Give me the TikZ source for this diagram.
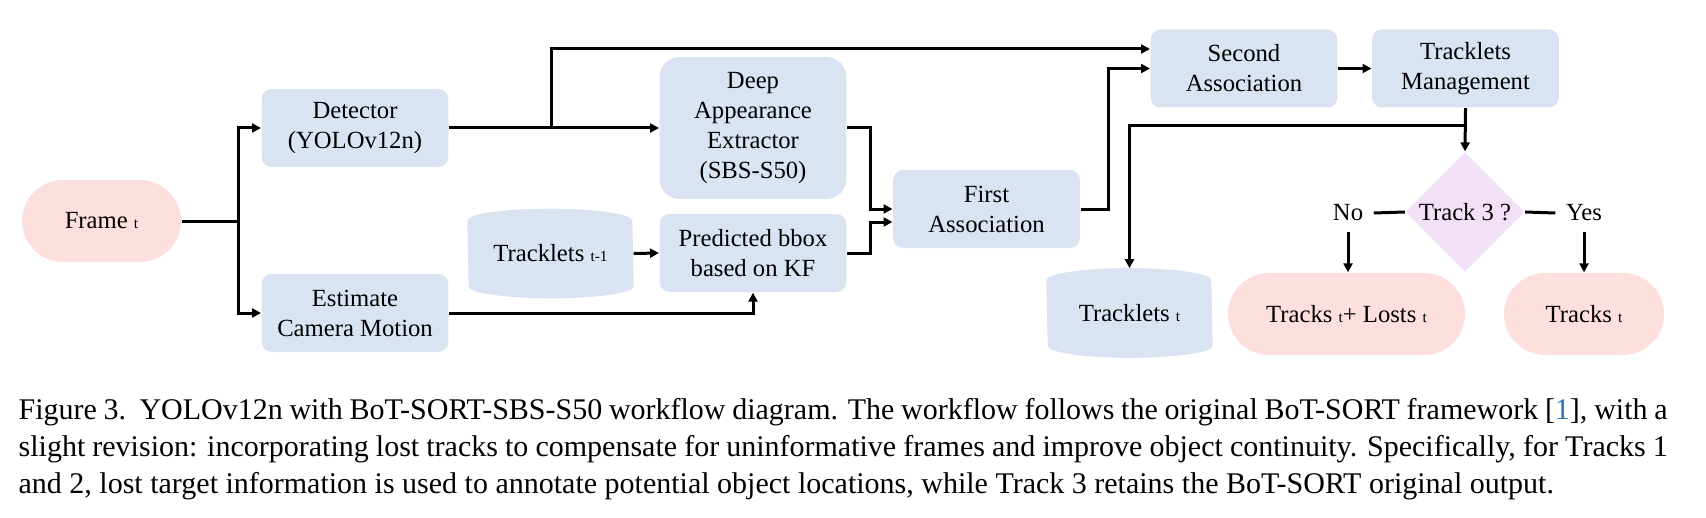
\documentclass[tikz,border=0pt]{standalone}
\usepackage{fontspec}
\setmainfont{Liberation Serif}
\usepackage{tikz}
\usetikzlibrary{arrows.meta,shapes.geometric,backgrounds}

\definecolor{boxblue}{RGB}{218,227,241}
\definecolor{boxpink}{RGB}{253,223,222}
\definecolor{boxlilac}{RGB}{242,224,247}
\definecolor{citeblue}{RGB}{45,115,185}
\newcommand{\subt}[1]{{\fontsize{4.6}{5}\selectfont #1}}

\begin{document}
\begin{tikzpicture}[x=0.3pt, y=-0.3pt, >={Triangle[length=2.7pt,width=2.7pt]},
    every node/.style={font=\fontsize{7.4}{9}\selectfont, align=center, inner sep=0pt},
    box/.style={fill=boxblue, rounded corners=3pt, minimum width=56pt, minimum height=23.4pt},
    pill/.style={fill=boxpink, rounded corners=12.3pt, minimum height=24.6pt},
    store/.style={minimum width=49.5pt, minimum height=26.5pt},
    flow/.style={line width=0.9pt}]
    \useasboundingbox (0,0) rectangle (1706,518);

    % Input
    \node[pill, minimum width=47.7pt] (frame) at (101.5,221) {Frame \subt{t}};

    % Detection and motion
    \node[box] (det) at (355,128) {Detector\\(YOLOv12n)};
    \node[box] (cam) at (355,313) {Estimate\\Camera Motion};
    \node[box, minimum height=42.6pt, rounded corners=6pt] (deep) at (753,128) {Deep\\Appearance\\Extractor\\(SBS-S50)};
    \node[store] (trk1) at (550.5,253.5) {Tracklets \subt{t-1}};
    \node[box] (pred) at (753,253) {Predicted bbox\\based on KF};

    % Association
    \node[box] (first) at (986.5,209) {First\\Association};
    \node[box] (second) at (1244,68.5) {Second\\Association};
    \node[box] (mgmt) at (1465.5,68.5) {Tracklets\\Management};

    % Decision and outputs
    \node[diamond, fill=boxlilac, minimum width=35.7pt, minimum height=36pt] (dec) at (1465,212) {Track 3 ?};
    \node[inner sep=3pt] (no) at (1348,213) {No};
    \node[inner sep=3pt] (yes) at (1584,213) {Yes};
    \node[store] (trkt) at (1129.5,313) {Tracklets \subt{t}};
    \node[pill, minimum width=71.1pt] (losts) at (1346.5,314) {Tracks \subt{t}+ Losts \subt{t}};
    \node[pill, minimum width=48pt] (tracks) at (1584,314) {Tracks \subt{t}};

    % Cylinder bodies
    \begin{scope}[on background layer]
        \fill[boxblue] ([yshift=-3.6pt]trk1.north west) arc[start angle=180, end angle=0, x radius=24.75pt, y radius=3.6pt]
            -- ([yshift=3.6pt]trk1.south east) arc[start angle=0, end angle=-180, x radius=24.75pt, y radius=3.6pt] -- cycle;
        \fill[boxblue] ([yshift=-3.6pt]trkt.north west) arc[start angle=180, end angle=0, x radius=24.75pt, y radius=3.6pt]
            -- ([yshift=3.6pt]trkt.south east) arc[start angle=0, end angle=-180, x radius=24.75pt, y radius=3.6pt] -- cycle;
    \end{scope}

    % Connectors
    \coordinate (fork) at (238,221);
    \coordinate (split) at (551,128);
    \coordinate (split2) at (1465.5,126);
    \draw[flow] (frame.east) -- (fork);
    \draw[flow, ->] (fork) |- (det.west);
    \draw[flow, ->] (fork) |- (cam.west);
    \draw[flow, ->] (det.east) -- (deep.west);
    \draw[flow, ->] (split) |- ([yshift=5.85pt]second.west);
    \draw[flow, ->] (cam.east) -| (pred.south);
    \draw[flow, ->] (trk1.east) -- (pred.west);
    \draw[flow, ->] (deep.east) -- ++(23,0) |- (first.west);
    \draw[flow, ->] (pred.east) -- ++(23,0) |- ([yshift=-3.9pt]first.west);
    \draw[flow, ->] (first.east) -- ++(28,0) |- (second.west);
    \draw[flow, ->] (second.east) -- (mgmt.west);
    \draw[flow, ->] (mgmt.south) -- (dec.north);
    \draw[flow, ->] (split2) -| (trkt.north);
    \draw[flow] (dec.west) -- (no.east);
    \draw[flow] (dec.east) -- (yes.west);
    \draw[flow, ->] (no.south) -- (no.south |- losts.north);
    \draw[flow, ->] (yes.south) -- (yes.south |- tracks.north);

    % Caption
    \node[anchor=north west, text width=494.7pt, align=justify, font=\fontsize{9}{11}\selectfont] (caption) at (18,393.4)
        {\strut Figure 3.\ \ YOLOv12n with BoT-SORT-SBS-S50 workflow diagram. The workflow follows the original BoT-SORT framework [{\color{citeblue}1}], with a\linebreak
        slight revision: incorporating lost tracks to compensate for uninformative frames and improve object continuity. Specifically, for Tracks 1\linebreak
        and 2, lost target information is used to annotate potential object locations, while Track 3 retains the BoT-SORT original output.};
\end{tikzpicture}
\end{document}
